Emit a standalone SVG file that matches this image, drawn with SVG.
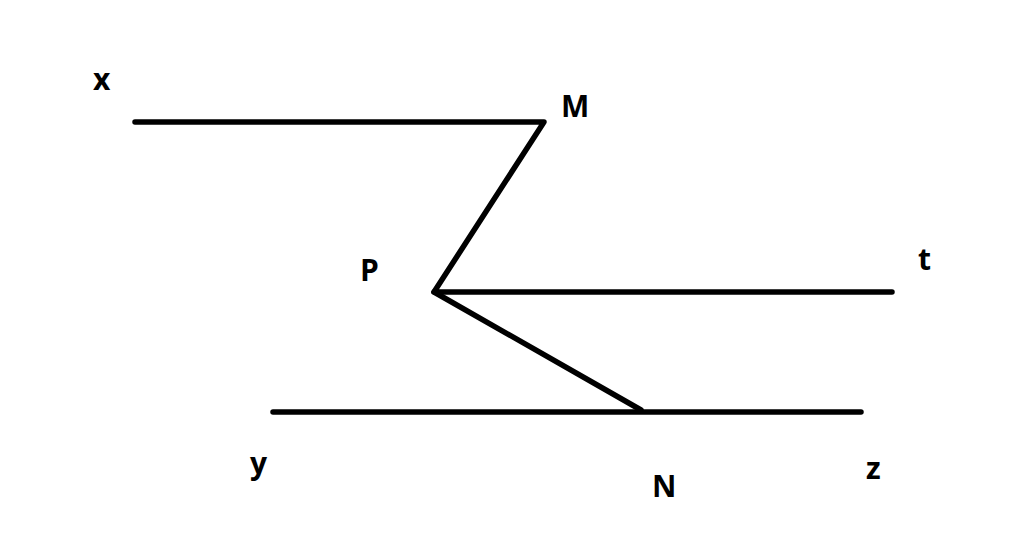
<svg xmlns="http://www.w3.org/2000/svg" width="1024" height="534" viewBox="0 0 1024 534">
<style>
.ln{stroke:#000;stroke-width:5.5;stroke-linecap:round;stroke-linejoin:round;fill:none}
.lb{font-family:"Open Sans","Liberation Sans",sans-serif;font-weight:bold;font-size:30px;fill:#000}
</style>
<rect width="1024" height="534" fill="#fff"/>
<g id="connectors">
<polyline class="ln" points="135,122 544,122 434,292 892,292"/>
<polyline class="ln" points="434,292 641,410"/>
<line class="ln" x1="273" y1="412" x2="861" y2="412"/>
</g>
<g id="node-x"><text class="lb" x="93" y="90">x</text></g>
<g id="node-M"><text class="lb" x="561" y="117">M</text></g>
<g id="node-P"><text class="lb" x="360" y="281">P</text></g>
<g id="node-t"><text class="lb" x="918" y="270">t</text></g>
<g id="node-y"><text class="lb" x="250" y="474">y</text></g>
<g id="node-N"><text class="lb" x="652" y="497">N</text></g>
<g id="node-z"><text class="lb" x="866" y="479">z</text></g>
</svg>
